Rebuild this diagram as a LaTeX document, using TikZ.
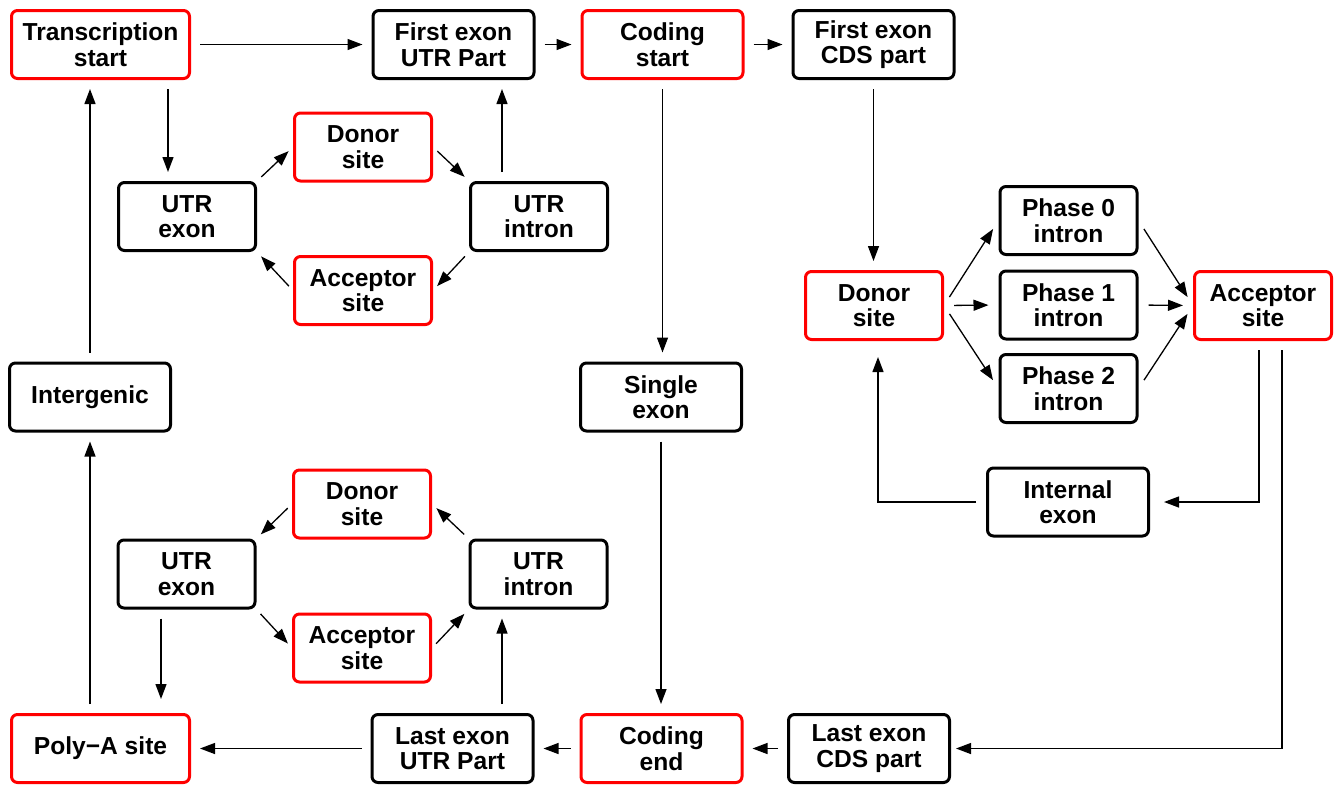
\documentclass[tikz,border=0pt]{standalone}
\usepackage{fontspec}
\setmainfont{Liberation Sans}
\usetikzlibrary{arrows.meta}

\tikzset{
  gbox/.style={draw=black, line width=1.5pt, rounded corners=3pt,
    minimum width=80.5pt, minimum height=34pt, inner sep=0pt, align=center,
    font=\fontsize{12.3}{12.8}\selectfont\bfseries},
  rbox/.style={gbox, draw=red},
  wide/.style={minimum width=89pt},
  small/.style={minimum width=68.5pt},
  arr/.style={line width=0.65pt, -{Triangle[length=7.5pt,width=5.5pt]},
    shorten <=4.5pt, shorten >=4.5pt},
  darr/.style={arr, shorten <=3pt, shorten >=3pt},
}

\begin{document}
\begin{tikzpicture}[x=0.5pt,y=-0.5pt]
\useasboundingbox (0,0) rectangle (1334,784);

\node[rbox,wide] (ts) at (100.5,44.5) {Transcription\\start};
\node[gbox] (fu) at (453.5,44.5) {First exon\\UTR Part};
\node[rbox] (cs) at (662.5,44.5) {Coding\\start};
\node[gbox] (fc) at (873.5,44.5) {First exon\\CDS part};

\node[rbox,small] (ud) at (363,147) {Donor\\site};
\node[gbox,small] (ue) at (187,216.5) {UTR\\exon};
\node[gbox,small] (ui) at (539,216.5) {UTR\\intron};
\node[rbox,small] (ua) at (363,290.5) {Acceptor\\site};

\node[gbox] (ig) at (90,397) {Intergenic};
\node[gbox] (se) at (661,397) {Single\\exon};

\node[rbox,small] (rd) at (874,305.5) {Donor\\site};
\node[gbox,small] (p0) at (1068.5,220.5) {Phase 0\\intron};
\node[gbox,small] (p1) at (1068.5,305) {Phase 1\\intron};
\node[gbox,small] (p2) at (1068.5,388.5) {Phase 2\\intron};
\node[rbox,small] (ra) at (1263,305.5) {Acceptor\\site};
\node[gbox] (ie) at (1068,502) {Internal\\exon};

\node[rbox,small] (ld) at (362,504) {Donor\\site};
\node[gbox,small] (le) at (186.5,574) {UTR\\exon};
\node[gbox,small] (li) at (538.5,574) {UTR\\intron};
\node[rbox,small] (la) at (362,648) {Acceptor\\site};

\node[rbox,wide] (pa) at (100.5,748.5) {Poly−A site};
\node[gbox] (lu) at (452.5,748.5) {Last exon\\UTR Part};
\node[rbox] (ce) at (661.5,748.5) {Coding\\end};
\node[gbox] (lc) at (869,748.5) {Last exon\\CDS part};

\draw[arr] (ts.east) -- (fu.west);
\draw[arr] (fu.east) -- (cs.west);
\draw[arr] (cs.east) -- (fc.west);

\draw[arr] ([xshift=-9.5pt]ue.north |- ts.south) -- ([xshift=-9.5pt]ue.north);
\draw[darr] (ue.north east) -- (ud.west);
\draw[darr] (ud.east) -- (ui.north west);
\draw[darr] (ui.south west) -- (ua.east);
\draw[darr] (ua.west) -- (ue.south east);
\draw[arr] ([xshift=-18.5pt]ui.north) -- ([xshift=-18.5pt]ui.north |- fu.south);

\draw[arr] (ig.north) -- (ig.north |- ts.south);
\draw[arr] (ig.south |- pa.north) -- (ig.south);
\draw[arr] (cs.south) -- (cs.south |- se.north);
\draw[arr] (se.south) -- (se.south |- ce.north);

\draw[arr] (fc.south) -- (fc.south |- rd.north);
\foreach \p in {p0,p1,p2} {
  \draw[arr, shorten <=5pt, shorten >=5pt] (rd.east) -- (\p.west);
  \draw[arr, shorten <=5pt, shorten >=5pt] (\p.east) -- (ra.west);
}
\draw[arr, shorten >=7pt] ([xshift=-2pt]ra.south) |- (ie.east);
\draw[arr, shorten <=5pt, shorten >=8pt] (ie.west) -| ([xshift=2pt]rd.south);
\draw[arr, shorten >=2.5pt] ([xshift=9.5pt]ra.south) |- (lc.east);

\draw[arr] (lc.west) -- (ce.east);
\draw[arr] (ce.west) -- (lu.east);
\draw[arr] (lu.west) -- (pa.east);

\draw[arr] ([xshift=-18.25pt]li.south |- lu.north) -- ([xshift=-18.25pt]li.south);
\draw[darr] (li.north west) -- (ld.east);
\draw[darr] (ld.west) -- (le.north east);
\draw[darr] (le.south east) -- (la.west);
\draw[darr] (la.east) -- (li.south west);
\draw[arr, shorten >=7pt] ([xshift=-12.75pt]le.south) -- ([xshift=-12.75pt]le.south |- pa.north);
\end{tikzpicture}
\end{document}
